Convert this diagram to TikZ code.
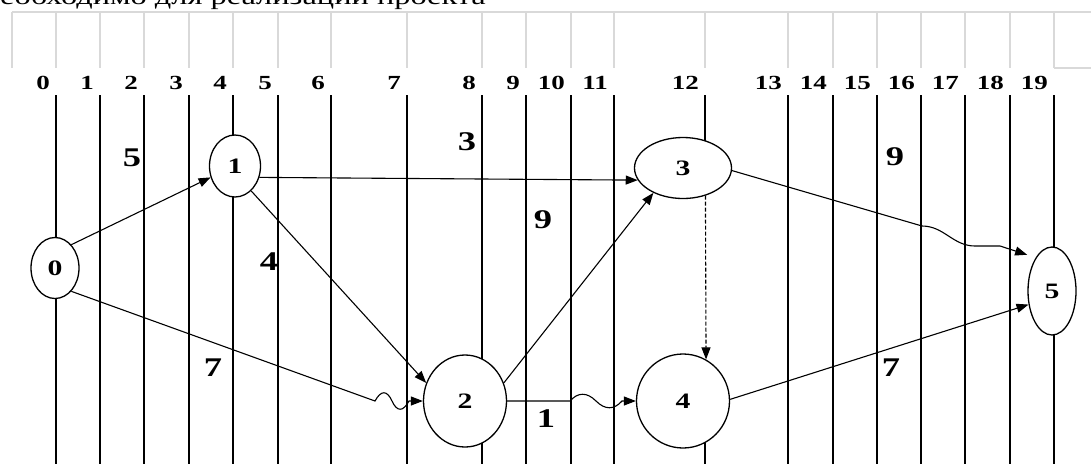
\documentclass[tikz,border=0pt]{standalone}
\usepackage{fontspec}
\setmainfont{Liberation Serif}
\newfontfamily\numfont[FakeStretch=1.35]{Liberation Serif}
\usetikzlibrary{shapes.geometric,arrows.meta}

\tikzset{
  event/.style={ellipse,draw,fill=white,line width=1.3pt,inner sep=0pt,
    font=\numfont\bfseries\fontsize{22}{22}\selectfont},
  work/.style={-{Triangle[length=12pt,width=9pt]},line width=1.1pt},
  gridline/.style={line width=2pt},
  greyline/.style={draw=black!15,line width=1.6pt},
  weight/.style={font=\numfont\bfseries\fontsize{27}{27}\selectfont},
  daynum/.style={anchor=east,inner sep=0pt,font=\numfont\bfseries\fontsize{20}{20}\selectfont}
}

\begin{document}
\begin{tikzpicture}[x=1pt,y=-1pt]
\useasboundingbox (0,0) rectangle (1091,464);
% line of text cut off at the top
\begin{scope}
\clip (0,0) rectangle (1091,464);
\node[anchor=base east,inner sep=0pt,font=\numfont\fontsize{24}{24}\selectfont] (head) at (486,4) {необходимо для реализации проекта};
\end{scope}
% grey cells
\draw[greyline] (12,12) -- (1091,12);
\draw[greyline] (1054,68) -- (1091,68);
\foreach \x in {12,56,100,144,189,233,278,331,407,482,526,571,614,705,788,833,877,921,965,1010,1054}
  \draw[greyline] (\x,12) -- (\x,68);
% days
\foreach \x/\d in {56/0,100/1,144/2,189/3,233/4,278/5,331/6,407/7,482/8,526/9,571/10,614/11,705/12,788/13,833/14,877/15,921/16,965/17,1010/18,1054/19}
  \node[daynum] (d\d) at (\x-6,83) {\d};
\foreach \x in {56,100,144,189,233,278,331,407,482,526,571,614,788,833,877,921,965,1010,1054}
  \draw[gridline] (\x,95) -- (\x,464);
\draw[gridline] (705,95) -- (705,170);
\draw[gridline] (705,400) -- (705,464);

% events
\node[event,minimum width=48pt,minimum height=61pt] (n0) at (55,268) {0};
\node[event,minimum width=51pt,minimum height=62pt] (n1) at (235,166) {1};
\node[event,minimum width=83pt,minimum height=92pt] (n2) at (465,401) {2};
\node[event,minimum width=97pt,minimum height=61pt] (n3) at (683,168) {3};
\node[event,minimum width=93pt,minimum height=94pt] (n4) at (683,401) {4};
\node[event,minimum width=48pt,minimum height=88pt] (n5) at (1052,291) {5};

\coordinate (w02) at (375,401);
\coordinate (w24) at (570,401);
\coordinate (w35) at (922,226);
\coordinate (s35) at (1000,246);

% works
\draw[work] (n0.55) -- (n1.205);
\draw[work] (n0.-55) -- (w02) .. controls (381,390) and (387,390) .. (392,401)
  .. controls (397,412) and (403,412) .. (409,401) -- (n2.west);
\draw[work] (n1.-25) -- (n3.195);
\draw[work] (n1.-57) -- (n2.155);
\draw[work] (n2.25) -- (n3.220);
\draw[work] (n2.east) -- (w24) .. controls (578,392) and (587,392) .. (596,401)
  .. controls (605,410) and (614,410) .. (622,401) -- (n4.west);
\draw[work,dash pattern=on 4pt off 2pt] (n3.-51) -- (n4.61);
\draw[work,shorten >=9pt] (n3.-3) -- (w35) to[out=0,in=180] (975,246) -- (s35) -- (n5.116);
\draw[work] (n4.2) -- (n5.210);

% durations
\node[weight] (l01) at (132,158) {5};
\node[weight] (l13) at (467,142) {3};
\node[weight] (l12) at (269,262) {4};
\node[weight] (l23) at (543,220) {9};
\node[weight] (l02) at (213,368) {7};
\node[weight] (l24) at (546,419) {1};
\node[weight] (l35) at (895,157) {9};
\node[weight] (l45) at (891,368) {7};
\end{tikzpicture}
\end{document}
